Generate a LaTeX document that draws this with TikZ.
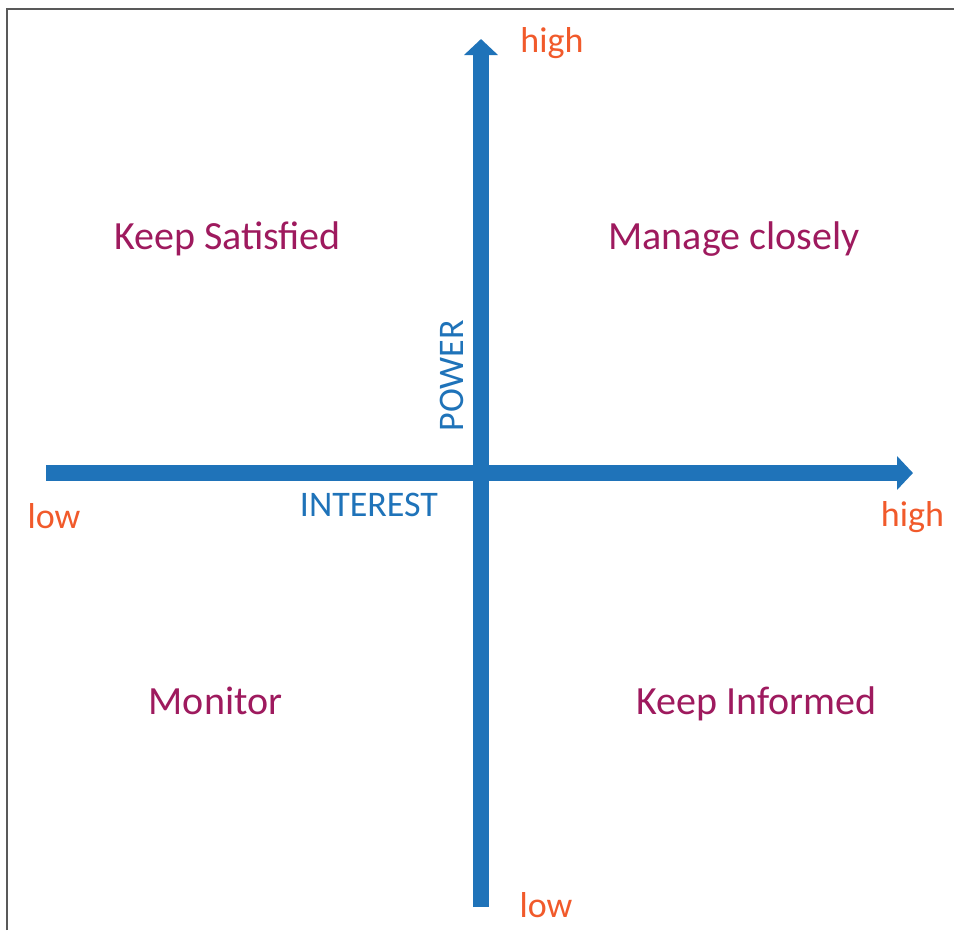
\documentclass[tikz,border=0pt]{standalone}
\usepackage{fontspec}
\setmainfont{Carlito}
\usetikzlibrary{arrows.meta}
\definecolor{axisblue}{HTML}{1F73B9}
\definecolor{endorange}{HTML}{F15A2B}
\definecolor{quadpurple}{HTML}{9E1A5E}
\begin{document}
\begin{tikzpicture}[x=1pt, y=-1pt,
    axis/.style={axisblue, line width=16pt, -{Triangle[width=33pt, length=16pt]}},
    quadrant/.style={quadpurple, anchor=base, inner sep=0pt, font=\fontsize{40}{48}\selectfont},
    endlabel/.style={endorange, anchor=base, inner sep=0pt, font=\fontsize{36}{43}\selectfont},
    axislabel/.style={axisblue, anchor=base, inner sep=0pt, font=\fontsize{36}{43}\selectfont}]
    \useasboundingbox (0,0) rectangle (954,930);
    % frame
    \draw [gray!70!black, line width=2pt] (7,930) -- (7,9) -- (954,9);

    % axes
    \coordinate (interestlow) at (46,473);
    \coordinate (interesthigh) at (913,473);
    \coordinate (powerlow) at (481,907);
    \coordinate (powerhigh) at (481,39);
    \draw [axis] (interestlow) -- (interesthigh);
    \draw [axis] (powerlow) -- (powerhigh);

    \node [axislabel] (interest) at (369,516.5) {INTEREST};
    \node [axislabel, rotate=90] (power) at (463,376) {POWER};

    \node [endlabel] (powerhightext) at (552,52) {high};
    \node [endlabel] (powerlowtext) at (546,917) {low};
    \node [endlabel] (interestlowtext) at (54,528) {low};
    \node [endlabel] (interesthightext) at (912.5,526) {high};

    % quadrants
    \node [quadrant] (satisfied) at (227.5,249) {Keep Satisfied};
    \node [quadrant] (manage) at (734,249) {Manage closely};
    \node [quadrant] (monitor) at (215.5,714) {Monitor};
    \node [quadrant] (informed) at (756.5,714) {Keep Informed};
\end{tikzpicture}
\end{document}
